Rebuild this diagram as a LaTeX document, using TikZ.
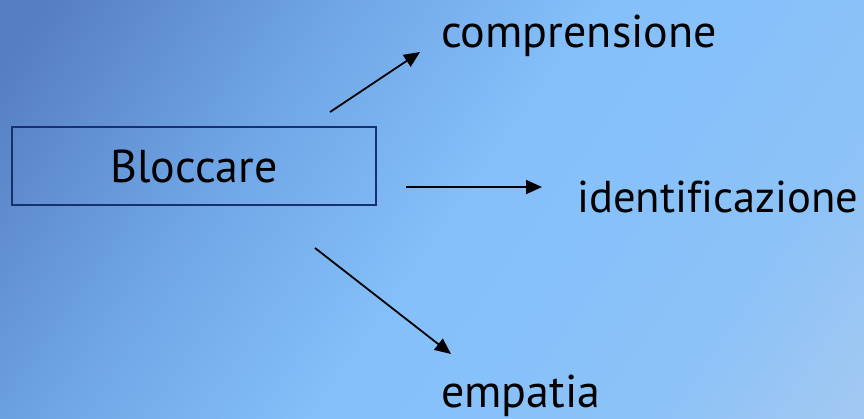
\documentclass[tikz,border=0pt]{standalone}
\usepackage{fontspec}
\setmainfont[Ligatures=NoCommon]{PT Sans}
\usetikzlibrary{arrows.meta}
\definecolor{bgA}{RGB}{86,126,194}
\definecolor{bgB}{RGB}{112,166,230}
\definecolor{bgC}{RGB}{132,192,250}
\definecolor{bgD}{RGB}{140,194,248}
\definecolor{bgE}{RGB}{168,202,240}
\definecolor{boxline}{RGB}{22,50,110}
\pgfdeclarehorizontalshading{bgshade}{100bp}{color(0bp)=(bgA); color(18bp)=(bgA); color(36bp)=(bgB); color(52bp)=(bgC); color(72bp)=(bgD); color(88bp)=(bgE); color(100bp)=(bgE)}
\tikzset{
  lbl/.style={font=\fontsize{46}{52}\selectfont, inner sep=0pt, anchor=base west},
  arr/.style={line width=1.8pt, -{Triangle[length=16pt,width=14pt]}},
  boxnode/.style={draw=boxline, line width=1.6pt, minimum width=364pt, minimum height=78pt, inner sep=0pt, font=\fontsize{46}{52}\selectfont}
}
\begin{document}
\begin{tikzpicture}[x=1pt,y=-1pt]
\useasboundingbox (0,0) rectangle (864,418);
\shade[shading=bgshade, shading angle=-35] (0,0) rectangle (864,418);
\node[boxnode] (blo) at (194,166) {Bloccare};
\node[lbl] (com) at (441,47) {comprensione};
\node[lbl, font=\fontsize{44.6}{50}\selectfont] (ide) at (577,212) {identificazione};
\node[lbl] (emp) at (441,407) {empatia};
\coordinate (a1s) at (330,112);
\coordinate (a1e) at (420,52);
\coordinate (a2s) at (406,187);
\coordinate (a2e) at (542,187);
\coordinate (a3s) at (315,248);
\coordinate (a3e) at (451,354);
\draw[arr] (a1s) -- (a1e);
\draw[arr] (a2s) -- (a2e);
\draw[arr] (a3s) -- (a3e);
\end{tikzpicture}
\end{document}
